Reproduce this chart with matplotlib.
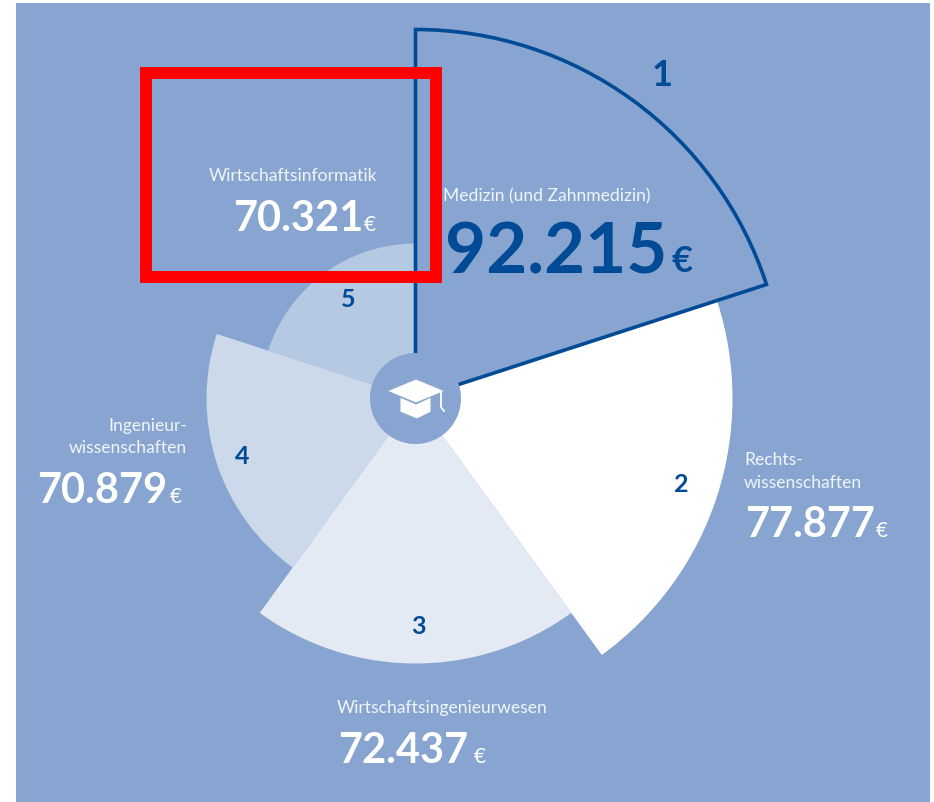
import matplotlib
matplotlib.use('Agg')
import matplotlib.pyplot as plt
import numpy as np
from matplotlib.patches import Rectangle, Polygon

W, H = 934, 802
BG = '#87a5d0'
DARK = '#004a96'
SOFT = '#f1f5fa'

ranks = ['1', '2', '3', '4', '5']
subjects = ['Medizin (und Zahnmedizin)', 'Rechts-', 'wissenschaften', 'Wirtschaftsingenieurwesen',
            'Ingenieur-', 'Wirtschaftsinformatik']
salaries = ['92.215', '77.877', '72.437', '70.879', '70.321']
# drawn length of each sector, not proportional to the salary in the original
sector_lengths = [369, 317, 265, 209, 155]
sector_colors = [BG, '#ffffff', '#e3eaf3', '#ccd9eb', '#b6c9e2']


def px(x, y):
    return x / W, 1 - y / H


fig = plt.figure(figsize=(W / 100, H / 100), dpi=100, facecolor='white')
plt.rcParams['font.family'] = ['Lato', 'DejaVu Sans']

fig.add_artist(Rectangle(px(16, 802), 914 / W, 799 / H, transform=fig.transFigure,
                         facecolor=BG, edgecolor='none', zorder=-1))

# polar axes centred on the hat, 400 px radius
cx, cy, rmax = 415.5, 398.5, 400
ax = fig.add_axes([(cx - rmax) / W, 1 - (cy + rmax) / H, 2 * rmax / W, 2 * rmax / H],
                  projection='polar')
ax.patch.set_alpha(0)
ax.set_theta_zero_location('N')
ax.set_theta_direction(-1)
ax.set_ylim(0, rmax)
ax.axis('off')

width = np.deg2rad(72)
theta = np.arange(5) * width + width / 2
for i in [4, 3, 2, 1]:
    ax.bar(theta[i], sector_lengths[i], width=width, color=sector_colors[i], linewidth=0, zorder=2 + (4 - i))
ax.bar(theta[0], sector_lengths[0], width=width, facecolor='none', edgecolor=DARK, linewidth=2.6,
       joinstyle='miter', zorder=7)

# centre disc and graduation cap
ax.bar(0, 45.5, width=2 * np.pi, color=BG, linewidth=0, zorder=8)
cap_parts = [
    [(400, 397), (400, 412), (417, 419), (431, 412), (431, 397), (416, 404)],
    [(387, 391), (416, 379), (445, 391), (416, 403)],
]
for part in cap_parts:
    fig.add_artist(Polygon([px(*p) for p in part], closed=True, transform=fig.transFigure,
                           facecolor='white', edgecolor=BG, linewidth=0.7, zorder=9))
fig.add_artist(plt.Line2D([px(441, 0)[0], px(441, 0)[0], px(444, 0)[0]],
                          [px(0, 393)[1], px(0, 407)[1], px(0, 411)[1]],
                          color='white', linewidth=1.3, zorder=9))


def label(x, y, s, size, color=SOFT, weight='normal', ha='left'):
    fig.text(*px(x, y), s, fontsize=size, color=color, fontweight=weight, ha=ha, va='baseline', zorder=10)


# subject labels
label(209, 181, subjects[5], 12.6)
label(443, 201, subjects[0], 12.6)
label(744, 465, subjects[1], 12.6)
label(744, 488, subjects[2], 12.6)
label(187, 431, subjects[4], 12.6, ha='right')
label(187, 453, subjects[2], 12.6, ha='right')
label(337, 713, subjects[3], 12.6)

# salaries
label(233, 231, salaries[4], 30, color='white', weight='bold')
label(364, 231, '€', 15, color='white')
label(445, 274, salaries[0], 51, color=DARK, weight='bold')
label(671, 272, '€', 26, color=DARK, weight='bold')
label(745, 537, salaries[1], 30, color='white', weight='bold')
label(876, 537, '€', 15, color='white')
label(37, 503, salaries[3], 30, color='white', weight='bold')
label(170, 503, '€', 15, color='white')
label(338, 763, salaries[2], 30, color='white', weight='bold')
label(474, 763, '€', 15, color='white')

# rank numbers
rank_pos = [(662, 86), (681, 492), (418, 634), (242, 464), (348, 307)]
rank_size = [26, 18, 18, 18, 18]
for r, (x, y), s in zip(ranks, rank_pos, rank_size):
    label(x, y, r, s, color=DARK, weight='bold', ha='center')

# red annotation frame
fig.add_artist(Rectangle(px(146, 276.5), 290 / W, 203 / H, transform=fig.transFigure,
                         facecolor='none', edgecolor='#ff0000', linewidth=8.6, joinstyle='miter', zorder=11))

fig.savefig('out.png', dpi=100)
